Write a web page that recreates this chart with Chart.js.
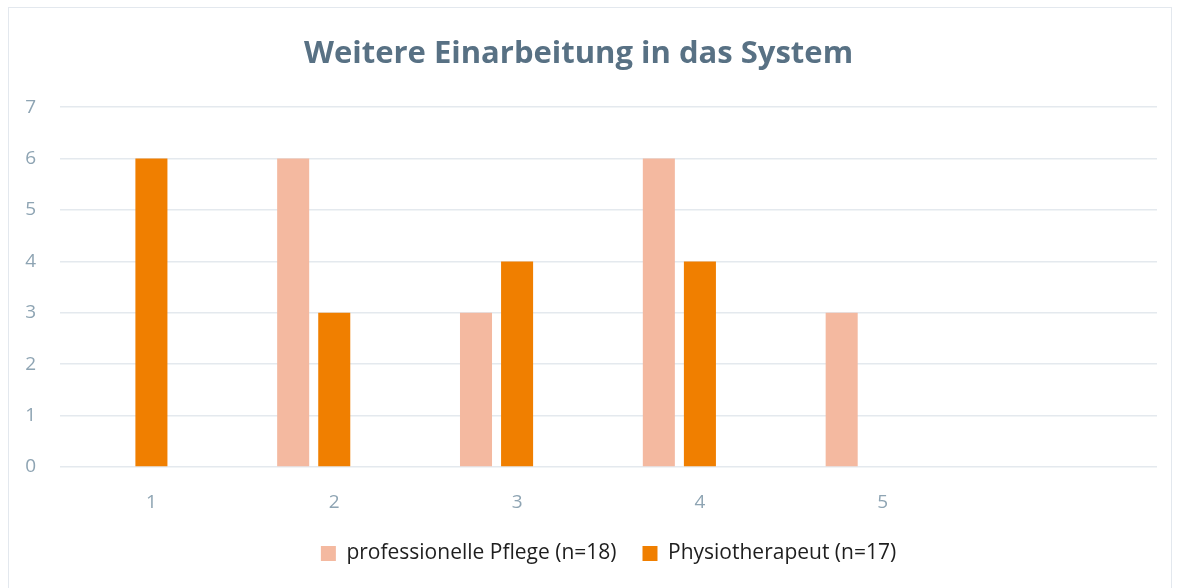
<!DOCTYPE html>
<html>
<head>
<meta charset="utf-8">
<script src="https://cdn.jsdelivr.net/npm/chart.js@4.4.1/dist/chart.umd.min.js"></script>
<style>
  html, body { margin: 0; padding: 0; background: #fff; }
  #wrap { position: relative; width: 1181px; height: 588px; }
  #frame { position: absolute; left: 8px; top: 7px; width: 1164px; height: 600px; border: 1.5px solid #e3e8ee; box-sizing: border-box; }
  canvas { position: absolute; left: 0; top: 0; }
</style>
</head>
<body>
<div id="wrap">
  <div id="frame"></div>
  <canvas id="chart" width="1181" height="588"></canvas>
</div>
<script>
// Chart values
const categories = ['1', '2', '3', '4', '5', ''];
const pflegeValues = [0, 6, 3, 6, 3, null];
const physioValues = [6, 3, 4, 4, 0, null];
const emptyValues = [null, null, null, null, null, null];
const yTicks = [0, 1, 2, 3, 4, 5, 6, 7];

const gridColor = '#e4e9ee';
const tickColor = '#8ea4b3';

const ctx = document.getElementById('chart').getContext('2d');
new Chart(ctx, {
    type: 'bar',
    data: {
        labels: categories,
        datasets: [
            { label: 'professionelle Pflege (n=18)', data: pflegeValues, backgroundColor: '#f4b9a0' },
            { label: 'Physiotherapeut (n=17)', data: physioValues, backgroundColor: '#f07f00' },
            { label: '', data: emptyValues, backgroundColor: 'transparent' }
        ]
    },
    options: {
        responsive: false,
        animation: false,
        devicePixelRatio: 1,
        datasets: { bar: { categoryPercentage: 0.674, barPercentage: 0.78 } },
        layout: { padding: { left: 0, right: 24, top: 18, bottom: 14 } },
        plugins: {
            title: {
                display: true,
                text: 'Weitere Einarbeitung in das System',
                color: '#587184',
                font: { family: 'Open Sans', size: 31, weight: 'bold' },
                padding: { top: 18, bottom: 34 }
            },
            legend: {
                position: 'bottom',
                fullSize: false,
                labels: {
                    color: '#1e1e1e',
                    font: { family: 'Open Sans', size: 21 },
                    boxWidth: 15,
                    boxHeight: 15,
                    padding: 26,
                    filter: item => item.text !== ''
                }
            },
            tooltip: { enabled: false }
        },
        scales: {
            x: {
                grid: { display: false },
                border: { display: false },
                ticks: { color: tickColor, font: { family: 'Open Sans', size: 19 }, padding: 16 },
                afterFit: scale => { scale.height = 50; }
            },
            y: {
                min: 0,
                max: 7,
                afterBuildTicks: scale => { scale.ticks = yTicks.map(v => ({ value: v })); },
                grid: { color: gridColor, lineWidth: 1.5, drawTicks: false },
                border: { display: false },
                ticks: { color: tickColor, font: { family: 'Open Sans', size: 19 }, padding: 24 },
                afterFit: scale => { scale.width = 60; }
            }
        }
    }
});
</script>
</body>
</html>
